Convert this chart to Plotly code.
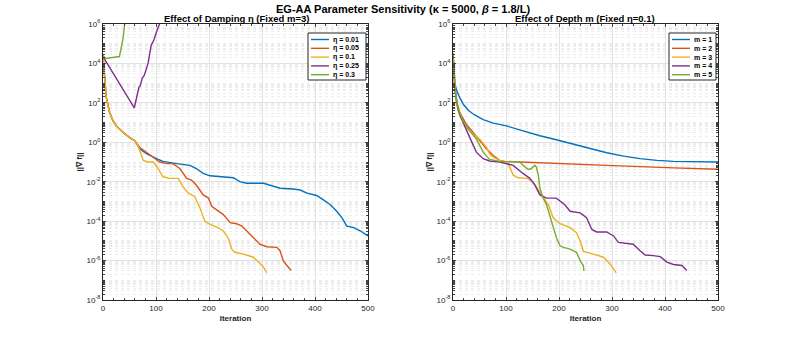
import plotly.graph_objects as go

# iteration / log10(||grad f||)
# --- left panel: damping eta (m=3)
eta_names = ['η = 0.01', 'η = 0.05', 'η = 0.1', 'η = 0.25', 'η = 0.3']

it_eta001 = [0, 3, 6, 12.6, 19, 25, 38, 50, 60, 69, 82, 101, 113, 139, 164, 176, 189, 202, 227, 246, 258, 271,
             303, 322, 334, 359, 372, 385, 403, 416, 429, 441, 451, 460, 473, 486, 500]
lg_eta001 = [4.4, 3.1, 2.3, 1.5, 1.08, 0.83, 0.5, 0.25, 0.08, -0.33, -0.58, -0.83, -0.97, -1.08, -1.17, -1.33,
             -1.58, -1.7, -1.75, -1.8, -2.0, -2.08, -2.08, -2.25, -2.33, -2.37, -2.42, -2.58, -2.7, -2.92, -3.17,
             -3.5, -3.83, -4.25, -4.33, -4.5, -4.75]

it_eta005 = [0, 3, 6, 12.6, 19, 25, 38, 50, 60, 69, 82, 95, 107, 120, 132, 145, 158, 167, 176, 189, 199, 205,
             214, 227, 240, 252, 262, 271, 284, 296, 309, 328, 334, 340, 347, 355]
lg_eta005 = [4.4, 3.1, 2.3, 1.5, 1.08, 0.83, 0.5, 0.25, 0.08, -0.25, -0.5, -0.75, -1.0, -1.08, -1.08, -1.33,
             -1.83, -1.92, -2.17, -2.67, -2.83, -3.25, -3.42, -3.67, -4.08, -4.13, -4.25, -4.5, -4.83, -5.17,
             -5.3, -5.33, -5.5, -6.0, -6.25, -6.5]

it_eta01 = [0, 3, 6, 12.6, 19, 25, 38, 50, 60, 66, 76, 85, 95, 104, 113, 126, 142, 151, 161, 173, 183, 192,
            202, 217, 227, 236, 243, 249, 265, 284, 293, 303, 309]
lg_eta01 = [4.4, 3.1, 2.3, 1.5, 1.08, 0.83, 0.5, 0.25, 0.08, -0.17, -0.92, -1.0, -1.0, -1.33, -1.75, -1.83,
            -1.83, -2.25, -2.58, -2.75, -3.33, -4.0, -4.17, -4.33, -4.5, -4.83, -5.42, -5.58, -5.67, -5.83,
            -6.08, -6.33, -6.62]

it_eta025 = [0, 59, 63, 68, 70, 74, 78, 85, 91, 96, 101, 107, 110]
lg_eta025 = [4.34, 1.75, 2.22, 2.81, 2.85, 3.24, 3.4, 4.0, 4.93, 5.19, 5.61, 6.03, 6.4]

it_eta03 = [0, 5, 31, 35, 38, 41, 44]
lg_eta03 = [4.4, 4.25, 4.35, 4.8, 5.3, 6.0, 6.6]

# --- right panel: depth m (eta=0.1)
m_names = ['m = 1', 'm = 2', 'm = 3', 'm = 4', 'm = 5']

it_m1 = [0, 3, 6, 12, 20, 30, 40, 57, 76, 101, 132, 164, 195, 227, 258, 290, 322, 353, 385, 416, 448, 500]
lg_m1 = [4.5, 3.1, 2.7, 2.3, 1.9, 1.6, 1.4, 1.15, 0.97, 0.83, 0.58, 0.33, 0.13, -0.08, -0.3, -0.53, -0.7,
         -0.83, -0.92, -0.97, -0.98, -1.0]

it_m2 = [0, 3, 6, 12.6, 25, 38, 50, 63, 76, 88, 98, 164, 290, 416, 500]
lg_m2 = [4.5, 3.0, 2.14, 1.5, 0.92, 0.5, 0.08, -0.33, -0.67, -0.92, -0.97, -1.03, -1.17, -1.3, -1.37]

it_m3 = [0, 3, 6, 12.6, 25, 38, 50, 63, 69, 76, 88, 101, 107, 113.5, 123, 139, 151, 161, 170, 180, 189, 202,
         221, 233, 240, 246, 265, 284, 296, 308]
lg_m3 = [4.5, 2.9, 2.0, 1.33, 0.75, 0.42, 0.17, -0.25, -0.58, -0.75, -0.92, -1.0, -1.25, -1.67, -1.8, -1.83,
         -2.0, -2.42, -2.75, -3.17, -3.83, -4.13, -4.33, -4.58, -5.0, -5.53, -5.67, -5.83, -6.17, -6.62]

it_m4 = [0, 3, 9.5, 19, 31.5, 44, 57, 69, 88, 113.5, 132, 145, 154.5, 164, 176.5, 195, 211, 221, 240, 252, 262,
         271, 290, 303, 312, 328, 340, 353, 362.5, 378, 391, 403.5, 416, 432, 441]
lg_m4 = [4.5, 2.8, 1.67, 1.0, 0.25, -0.5, -0.83, -0.95, -1.0, -1.17, -1.58, -1.83, -2.17, -2.67, -2.83, -2.83,
         -3.17, -3.5, -3.58, -3.83, -4.42, -4.55, -4.55, -4.75, -5.08, -5.13, -5.17, -5.5, -5.72, -5.75, -5.8,
         -6.08, -6.2, -6.25, -6.5]

it_m5 = [0, 3, 9.5, 19, 31.5, 44, 57, 69, 88, 126, 135.5, 142, 148, 154.5, 157, 161, 164, 170, 176.5, 183, 189,
         195, 202, 208, 221, 233, 240, 246, 247]
lg_m5 = [4.5, 2.8, 1.75, 1.08, 0.58, 0.17, -0.5, -0.87, -0.97, -1.0, -1.25, -1.38, -1.33, -1.17, -1.25, -1.67,
         -2.33, -2.83, -3.17, -3.75, -4.33, -4.83, -5.25, -5.33, -5.42, -5.58, -6.0, -6.25, -6.53]

x_ticks = [0, 100, 200, 300, 400, 500]
y_exps = [-8, -6, -4, -2, 0, 2, 4, 6]

colors = ['#0072BD', '#D95319', '#EDB120', '#7E2F8E', '#77AC30']
FONT = 'Liberation Sans, Arial, sans-serif'

# full-window figure; the page's default body margin is removed after drawing
W, H = 793, 340
def px(x):
    return x / W
def py(y):
    return 1 - y / H

left = [(it_eta001, lg_eta001), (it_eta005, lg_eta005), (it_eta01, lg_eta01), (it_eta025, lg_eta025), (it_eta03, lg_eta03)]
right = [(it_m1, lg_m1), (it_m2, lg_m2), (it_m3, lg_m3), (it_m4, lg_m4), (it_m5, lg_m5)]

fig = go.Figure()
for i, (xs, ls) in enumerate(left):
    fig.add_trace(go.Scatter(x=xs, y=[10 ** v for v in ls], mode='lines', name=eta_names[i], showlegend=False,
                             line=dict(color=colors[i], width=1.4), xaxis='x', yaxis='y'))
for i, (xs, ls) in enumerate(right):
    fig.add_trace(go.Scatter(x=xs, y=[10 ** v for v in ls], mode='lines', name=m_names[i], showlegend=False,
                             line=dict(color=colors[i], width=1.4), xaxis='x2', yaxis='y2'))

minor_vals = [k * 10.0 ** d for d in range(-8, 6) for k in range(1, 10) if not (k == 1 and d % 2 == 0)]
ytext = ['10<sup>%d</sup>' % e for e in y_exps]

xax = dict(range=[0, 500], tickvals=x_ticks, ticks='inside', ticklen=3, showline=True, linecolor='#262626',
           linewidth=1, mirror='ticks', showgrid=True, gridcolor='#e2e2e2', zeroline=False, automargin=False,
           tickfont=dict(size=8, color='#262626'), minor=dict(dtick=20, ticks='inside', ticklen=2, showgrid=False),
           title=dict(text='<b>Iteration</b>', font=dict(size=8, color='#262626'), standoff=3))
yax = dict(type='log', range=[-8, 6], tickvals=[10.0 ** e for e in y_exps], ticktext=ytext, ticks='inside',
           ticklen=3, showline=True, linecolor='#262626', linewidth=1, mirror='ticks', showgrid=True,
           gridcolor='#e2e2e2', zeroline=False, automargin=False, tickfont=dict(size=8, color='#262626'),
           minor=dict(tickmode='array', tickvals=minor_vals, ticks='inside', ticklen=2, showgrid=True,
                      gridcolor='#ededed', griddash='dot', gridwidth=1),
           title=dict(text='<b>||∇ f||</b>', font=dict(size=8, color='#262626'), standoff=2))

# hand-built MATLAB-style legend boxes (compact rows)
shapes = []
annotations = [
    dict(text='<b>EG-AA Parameter Sensitivity (κ = 5000, <i>β</i> = 1.8/L)</b>', x=px(403), y=py(8.5),
         xanchor='center', yanchor='middle', xref='paper', yref='paper', showarrow=False,
         font=dict(size=11, color='black')),
    dict(text='<b>Effect of Damping η (Fixed m=3)</b>', x=px(236), y=py(18.5), xanchor='center', yanchor='middle',
         xref='paper', yref='paper', showarrow=False, font=dict(size=9.5, color='black')),
    dict(text='<b>Effect of Depth m (Fixed η=0.1)</b>', x=px(585), y=py(18.5), xanchor='center', yanchor='middle',
         xref='paper', yref='paper', showarrow=False, font=dict(size=9.5, color='black')),
]
for bx0, bx1, names in [(308, 366, eta_names), (669, 716, m_names)]:
    shapes.append(dict(type='rect', xref='paper', yref='paper', x0=px(bx0), x1=px(bx1),
                       y0=py(80), y1=py(33), line=dict(color='#262626', width=1),
                       fillcolor='white', layer='above'))
    for i, nm in enumerate(names):
        ry = py(39.5 + 8.8 * i)
        shapes.append(dict(type='line', xref='paper', yref='paper', x0=px(bx0 + 3), x1=px(bx0 + 21),
                           y0=ry, y1=ry, line=dict(color=colors[i], width=1.4), layer='above'))
        annotations.append(dict(text='<b>%s</b>' % nm, x=px(bx0 + 23), y=ry, xref='paper', yref='paper',
                                xanchor='left', yanchor='middle', showarrow=False,
                                font=dict(size=7, color='black')))

fig.update_layout(
    width=W, height=H, margin=dict(l=0, r=0, t=0, b=0),
    paper_bgcolor='white', plot_bgcolor='white', font=dict(family=FONT),
    xaxis=dict(xax, domain=[px(103), px(368)], anchor='y'),
    yaxis=dict(yax, domain=[py(300), py(24)], anchor='x'),
    xaxis2=dict(xax, domain=[px(453), px(718)], anchor='y2'),
    yaxis2=dict(yax, domain=[py(300), py(24)], anchor='x2'),
    shapes=shapes, annotations=annotations,
)

fig.write_html("out.html", config={'displayModeBar': False},
               post_script="document.body.style.margin='0px';")
